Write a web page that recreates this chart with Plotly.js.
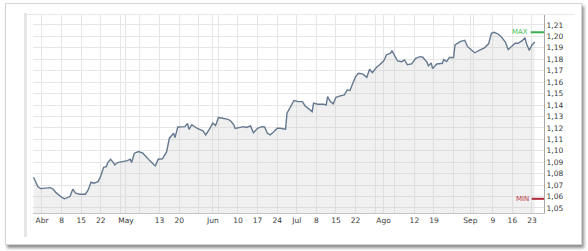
<!DOCTYPE html>
<html>
<head>
<meta charset="utf-8">
<script src="https://cdn.plot.ly/plotly-3.0.1.min.js"></script>
<style>
  html, body { margin: 0; padding: 0; background: #ffffff; }
  #frame { position: absolute; left: 5px; top: 3px; width: 575px; height: 240px;
           border: 1px solid #d6d6d6; box-shadow: 2px 3px 3px rgba(0,0,0,0.45); background: #fff; }
  #lbar { position: absolute; left: 24px; top: 13px; width: 3px; height: 224px; background: #e6e6e6; }
  #tline { position: absolute; left: 27px; top: 14px; width: 548px; height: 1px; background: #e8e8e8; }
  #chart { position: absolute; left: 0; top: 0; width: 588px; height: 251px; }
</style>
</head>
<body>
<div id="frame"></div>
<div id="lbar"></div>
<div id="tline"></div>
<div id="chart"></div>
<script>
// Data
const dates = [
  "2013-03-29","2013-03-30 12:00","2013-03-31 12:00","2013-04-02","2013-04-04","2013-04-05","2013-04-06",
  "2013-04-08","2013-04-09","2013-04-11","2013-04-12","2013-04-13","2013-04-14 12:00","2013-04-16 12:00",
  "2013-04-17 12:00","2013-04-18 12:00","2013-04-19 12:00","2013-04-21","2013-04-22","2013-04-23","2013-04-24",
  "2013-04-24 12:00","2013-04-25 12:00","2013-04-26 12:00","2013-04-27","2013-04-28","2013-04-30",
  "2013-05-01 12:00","2013-05-02 12:00","2013-05-03","2013-05-04","2013-05-05 12:00","2013-05-07","2013-05-08",
  "2013-05-09 12:00","2013-05-11","2013-05-11 12:00","2013-05-12 12:00","2013-05-14","2013-05-15 12:00",
  "2013-05-16 12:00","2013-05-18","2013-05-18 12:00","2013-05-19 12:00","2013-05-21","2013-05-22","2013-05-23",
  "2013-05-23 12:00","2013-05-24 12:00","2013-05-25 12:00","2013-05-26 12:00","2013-05-28 12:00","2013-05-29 12:00",
  "2013-05-31","2013-06-01","2013-06-02","2013-06-03","2013-06-04 12:00","2013-06-06 12:00","2013-06-07 12:00",
  "2013-06-08 12:00","2013-06-09","2013-06-10 12:00","2013-06-12","2013-06-13","2013-06-14 12:00","2013-06-15 12:00",
  "2013-06-17","2013-06-18 12:00","2013-06-19 12:00","2013-06-20 12:00","2013-06-21 12:00","2013-06-22 12:00",
  "2013-06-24","2013-06-25","2013-06-27","2013-06-27 12:00","2013-06-29","2013-06-30","2013-07-01 12:00",
  "2013-07-03","2013-07-04","2013-07-05 12:00","2013-07-06 12:00","2013-07-07","2013-07-08 12:00","2013-07-10 12:00",
  "2013-07-11 12:00","2013-07-12","2013-07-13","2013-07-14","2013-07-15","2013-07-16 12:00","2013-07-18",
  "2013-07-19","2013-07-20","2013-07-21","2013-07-22","2013-07-23","2013-07-24 12:00","2013-07-26","2013-07-27",
  "2013-07-28","2013-07-29 12:00","2013-07-30 12:00","2013-08-01","2013-08-01 12:00","2013-08-02","2013-08-03 12:00",
  "2013-08-04","2013-08-06","2013-08-07 12:00","2013-08-08 12:00","2013-08-09 12:00","2013-08-11","2013-08-12 12:00",
  "2013-08-14","2013-08-15","2013-08-16 12:00","2013-08-17","2013-08-18","2013-08-18 12:00","2013-08-20",
  "2013-08-22","2013-08-22 12:00","2013-08-23 12:00","2013-08-24 12:00","2013-08-26","2013-08-26 12:00",
  "2013-08-28 12:00","2013-08-30","2013-08-31","2013-09-01","2013-09-02 12:00","2013-09-04 12:00","2013-09-06",
  "2013-09-07 12:00","2013-09-08 12:00","2013-09-09 12:00","2013-09-11","2013-09-12","2013-09-13 12:00",
  "2013-09-14 12:00","2013-09-16","2013-09-17","2013-09-18","2013-09-19 12:00","2013-09-20 12:00","2013-09-21",
  "2013-09-22","2013-09-23","2013-09-24"
];
const values = [
  1.0769,1.0687,1.0669,1.0673,1.0678,1.0664,1.0634,
  1.0594,1.0580,1.0600,1.0664,1.0629,1.0620,1.0620,
  1.0658,1.0725,1.0716,1.0730,1.0780,1.0856,1.0862,
  1.0897,1.0926,1.0897,1.0876,1.0897,1.0905,
  1.0914,1.0926,1.0897,1.0979,1.0993,1.0979,1.0949,
  1.0914,1.0877,1.0868,1.0926,1.0930,1.0990,
  1.1110,1.1153,1.1115,1.1208,1.1211,1.1211,1.1238,
  1.1188,1.1228,1.1211,1.1195,1.1175,1.1139,
  1.1197,1.1241,1.1220,1.1290,1.1284,1.1274,1.1258,
  1.1226,1.1195,1.1206,1.1211,1.1204,1.1217,1.1157,
  1.1197,1.1211,1.1208,1.1153,1.1139,1.1159,
  1.1197,1.1197,1.1188,1.1328,1.1401,1.1440,1.1430,
  1.1430,1.1392,1.1357,1.1342,1.1416,1.1407,1.1407,
  1.1401,1.1473,1.1430,1.1410,1.1468,1.1480,1.1488,
  1.1532,1.1527,1.1590,1.1648,1.1678,1.1672,1.1643,1.1713,
  1.1683,1.1730,1.1750,1.1785,1.1809,1.1838,1.1853,
  1.1875,1.1785,1.1779,1.1794,1.1752,1.1759,1.1809,
  1.1823,1.1818,1.1775,1.1743,1.1768,1.1718,1.1759,
  1.1765,1.1797,1.1780,1.1816,1.1816,1.1925,
  1.1957,1.1966,1.1910,1.1890,1.1857,1.1882,1.1900,
  1.1935,1.2027,1.2036,1.2019,1.1998,1.1950,
  1.1885,1.1917,1.1940,1.1940,1.1963,1.1989,1.1940,
  1.1878,1.1925,1.1950
];
const tickDates = ["2013-04-01","2013-04-08","2013-04-15","2013-04-22","2013-05-01","2013-05-13","2013-05-20",
  "2013-06-01","2013-06-10","2013-06-17","2013-06-24","2013-07-01","2013-07-08","2013-07-15","2013-07-22",
  "2013-08-01","2013-08-12","2013-08-19","2013-09-01","2013-09-09","2013-09-16","2013-09-23"];
const tickLabels = ["Abr","8","15","22","May","13","20","Jun","10","17","24","Jul","8","15","22",
  "Ago","12","19","Sep","9","16","23"];

const vMax = Math.max(...values);
const vMin = Math.min(...values);

const trace = {
  x: dates, y: values, type: 'scatter', mode: 'lines',
  line: { color: '#647890', width: 1.4 },
  fill: 'tozeroy', fillcolor: 'rgba(205,205,205,0.3)',
  hoverinfo: 'skip'
};

const tickFont = { family: 'DejaVu Sans, Verdana, sans-serif', size: 7.5, color: '#3a3a3a' };

const layout = {
  width: 588, height: 251,
  margin: { l: 33, r: 44, t: 15, b: 38 },
  paper_bgcolor: 'rgba(0,0,0,0)',
  plot_bgcolor: '#ffffff',
  separators: ',.',
  showlegend: false,
  xaxis: {
    type: 'date',
    range: ['2013-03-28 19:00', '2013-09-27 07:00'],
    tickmode: 'array', tickvals: tickDates, ticktext: tickLabels,
    showgrid: true, gridcolor: '#e6e6e6', gridwidth: 1,
    minor: { dtick: 7 * 86400000, tick0: '2013-04-01', showgrid: true, gridcolor: '#e6e6e6', gridwidth: 1 },
    showline: true, linecolor: '#c4c4c4', linewidth: 1,
    ticks: '', tickfont: tickFont, zeroline: false, fixedrange: true
  },
  yaxis: {
    side: 'right',
    range: [1.0456, 1.2187],
    tick0: 1.05, dtick: 0.01, tickformat: '.2f',
    showgrid: true, gridcolor: '#e6e6e6', gridwidth: 1,
    showline: true, linecolor: '#a8a8a8', linewidth: 1, mirror: false,
    ticks: '', tickfont: tickFont, zeroline: false, fixedrange: true
  },
  shapes: [
    { type: 'line', xref: 'paper', yref: 'y', x0: 0.974, x1: 1.0, y0: vMax, y1: vMax,
      line: { color: '#3aae4a', width: 2 } },
    { type: 'line', xref: 'paper', yref: 'y', x0: 0.976, x1: 1.0, y0: vMin, y1: vMin,
      line: { color: '#b0283a', width: 2 } }
  ],
  annotations: [
    { xref: 'paper', yref: 'y', x: 0.972, y: vMax, xanchor: 'right', yanchor: 'middle',
      text: 'MAX', showarrow: false, font: { family: 'DejaVu Sans, Verdana, sans-serif', size: 7, color: '#4cbf5c' } },
    { xref: 'paper', yref: 'y', x: 0.974, y: vMin, xanchor: 'right', yanchor: 'middle',
      text: 'MIN', showarrow: false, font: { family: 'DejaVu Sans, Verdana, sans-serif', size: 7, color: '#c0394b' } }
  ]
};

Plotly.newPlot('chart', [trace], layout, { staticPlot: true, displayModeBar: false });
</script>
</body>
</html>
